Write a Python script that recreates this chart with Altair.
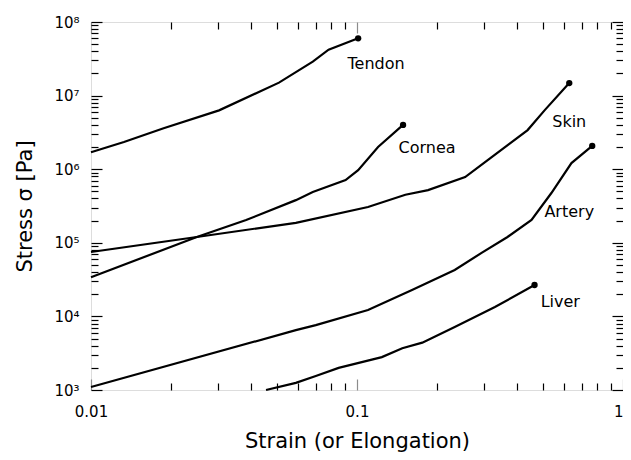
import altair as alt
import pandas as pd

# ---- data (strain, stress in Pa) ----
tissues = ["Tendon", "Cornea", "Skin", "Artery", "Liver"]

tendon_strain = [0.01, 0.0133, 0.01875, 0.0303, 0.0509, 0.0682, 0.0782, 0.101]
tendon_stress = [1.7e6, 2.34e6, 3.6e6, 6.3e6, 1.5e7, 2.9e7, 4.2e7, 6.0e7]

cornea_strain = [0.01, 0.025, 0.0383, 0.0589, 0.0682, 0.0906, 0.101, 0.120, 0.149]
cornea_stress = [3.4e4, 1.2e5, 2.04e5, 3.8e5, 4.9e5, 7.1e5, 9.7e5, 2.0e6, 4.0e6]

skin_strain = [0.01, 0.025, 0.0589, 0.110, 0.152, 0.185, 0.255, 0.310, 0.438, 0.507, 0.628]
skin_stress = [7.5e4, 1.2e5, 1.87e5, 3.06e5, 4.5e5, 5.2e5, 7.8e5, 1.33e6, 3.4e6, 6.3e6, 1.48e7]

artery_strain = [0.01, 0.0589, 0.070, 0.110, 0.161, 0.233, 0.294, 0.368, 0.453, 0.538, 0.640, 0.766]
artery_stress = [1.1e3, 6.5e3, 7.6e3, 1.22e4, 2.28e4, 4.27e4, 7.3e4, 1.2e5, 2.04e5, 4.75e5, 1.21e6, 2.07e6]

liver_strain = [0.0455, 0.0589, 0.070, 0.0853, 0.124, 0.148, 0.176, 0.233, 0.33, 0.465]
liver_stress = [1.0e3, 1.25e3, 1.55e3, 2.0e3, 2.8e3, 3.7e3, 4.4e3, 7.2e3, 1.34e4, 2.67e4]

label_strain = [0.118, 0.1835, 0.628, 0.628, 0.581]
label_stress = [2.7e7, 1.94e6, 4.36e6, 2.62e5, 1.57e4]

x_major = [0.01, 0.1, 1]
x_minor = [k * 10.0 ** e for e in (-2, -1) for k in range(2, 10)]
y_major = [1e3, 1e4, 1e5, 1e6, 1e7, 1e8]
y_minor = [k * 10.0 ** e for e in range(3, 8) for k in range(2, 10)]

series = {
    "Tendon": (tendon_strain, tendon_stress),
    "Cornea": (cornea_strain, cornea_stress),
    "Skin": (skin_strain, skin_stress),
    "Artery": (artery_strain, artery_stress),
    "Liver": (liver_strain, liver_stress),
}
rows = []
for name in tissues:
    xs, ys = series[name]
    for i, (x, y) in enumerate(zip(xs, ys)):
        rows.append({"tissue": name, "strain": x, "stress": y, "order": i})
df = pd.DataFrame(rows)
ends = df.groupby("tissue").tail(1).reset_index(drop=True)
labels_df = pd.DataFrame({"tissue": tissues, "strain": label_strain, "stress": label_stress})

W, H = 532, 368
FONT = "DejaVu Sans"
xscale = alt.Scale(type="log", domain=[0.01, 1], nice=False)
yscale = alt.Scale(type="log", domain=[1e3, 1e8], nice=False)

x_main_axis = alt.Axis(
    orient="bottom", values=x_major, ticks=False, domain=False, grid=False,
    labelFlush=False, labelPadding=14, labelFontSize=15, labelFont=FONT, labelColor="black",
    labelAlign={"condition": {"test": "datum.value > 0.5", "value": "right"}, "value": "center"},
    labelExpr="datum.value > 0.5 ? '1' : (datum.value > 0.05 ? '0.1' : '0.01')",
    title="Strain (or Elongation)", titleFontSize=21, titleFont=FONT, titleFontWeight="normal",
    titleColor="black", titleY=57, titleBaseline="alphabetic",
)
y_main_axis = alt.Axis(
    orient="left", values=y_major, ticks=False, domain=False, grid=False,
    labelFlush=False, labelPadding=12, labelFontSize=15, labelFont=FONT, labelColor="black",
    labelExpr="'10' + ['\u00b3','\u2074','\u2075','\u2076','\u2077','\u2078'][round(log(datum.value)/LN10) - 3]",
    title="Stress \u03c3 [Pa]", titleFontSize=21, titleFont=FONT, titleFontWeight="normal",
    titleColor="black", titleX=-60, titleBaseline="alphabetic",
)

lines = alt.Chart(df).mark_line(color="black", strokeWidth=2.2).encode(
    x=alt.X("strain:Q", scale=xscale, axis=x_main_axis),
    y=alt.Y("stress:Q", scale=yscale, axis=y_main_axis),
    detail="tissue:N",
    order="order:Q",
)

dots = alt.Chart(ends).mark_point(filled=True, color="black", size=40, opacity=1).encode(
    x=alt.X("strain:Q", scale=xscale, axis=None),
    y=alt.Y("stress:Q", scale=yscale, axis=None),
)

texts = alt.Chart(labels_df).mark_text(
    font=FONT, fontSize=16, color="black", align="center", baseline="middle"
).encode(
    x=alt.X("strain:Q", scale=xscale, axis=None),
    y=alt.Y("stress:Q", scale=yscale, axis=None),
    text="tissue:N",
)


def tick_layer(xorient, yorient, xvals, yvals, size, xcolor):
    xa = alt.Axis(orient=xorient, offset=-H, values=xvals, ticks=True, tickSize=size,
                  tickColor=xcolor, tickWidth=1.2, labels=False, domain=False, grid=False, title=None)
    ya = alt.Axis(orient=yorient, offset=-W, values=yvals, ticks=True, tickSize=size,
                  tickColor="black", tickWidth=1.2, labels=False, domain=False, grid=False, title=None)
    return alt.Chart(ends).mark_point(opacity=0).encode(
        x=alt.X("strain:Q", scale=xscale, axis=xa),
        y=alt.Y("stress:Q", scale=yscale, axis=ya),
    )


# bottom & left inward ticks (axes placed on the opposite side, pulled across)
t1 = tick_layer("top", "right", x_major, y_major, 11, "#8c8c8c")
t2 = tick_layer("top", "right", x_minor, y_minor, 7, "black")
# top & right inward ticks
t3 = tick_layer("bottom", "left", x_major, y_major, 11, "#8c8c8c")
t4 = tick_layer("bottom", "left", x_minor, y_minor, 7, "black")

chart = alt.layer(lines, dots, texts, t1, t2, t3, t4).resolve_axis(
    x="independent", y="independent"
).properties(
    width=W, height=H,
    autosize=alt.AutoSizeParams(type="none"),
    padding={"left": 83, "top": 14, "right": 0, "bottom": 62},
).configure_view(stroke="black", strokeWidth=1.6).configure(font=FONT, background="white")

chart.save("out.html", embed_options={"renderer": "svg", "actions": False})
